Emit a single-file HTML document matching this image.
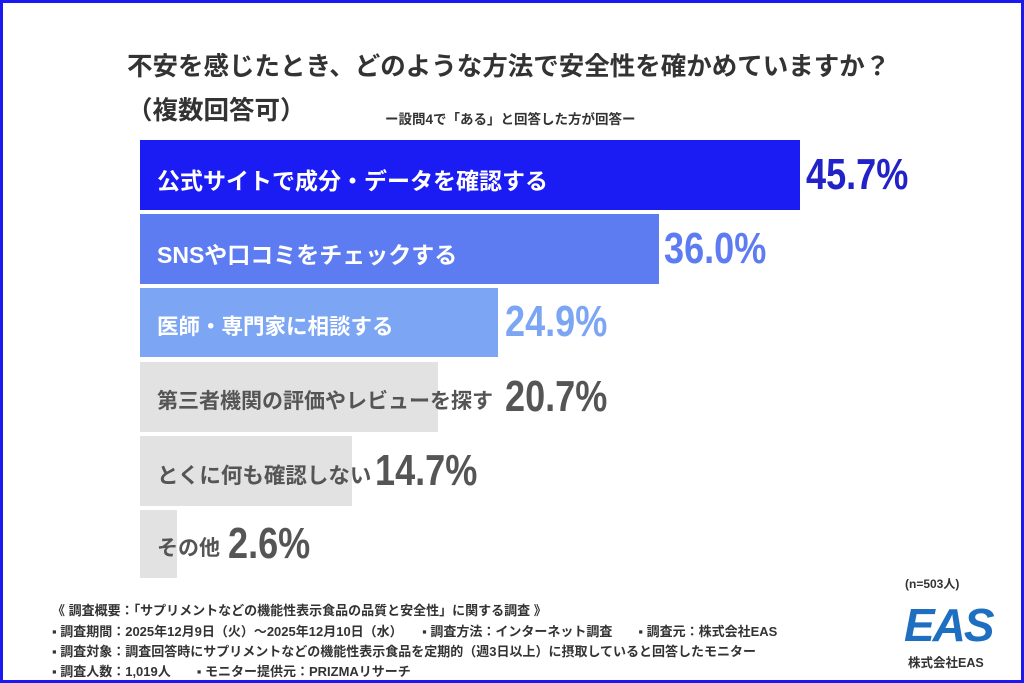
<!DOCTYPE html>
<html><head><meta charset="utf-8"><style>
body{margin:0;width:1024px;height:683px;overflow:hidden;background:#fff;font-family:"Liberation Sans","Noto Sans CJK JP",sans-serif}
.frame{position:absolute;left:0;top:0;width:1018px;height:677px;border:3px solid #1a1af0;background:#fff}
.t{position:absolute;white-space:nowrap;font-weight:bold;color:#333}
.bar{position:absolute;left:140px}
.lab{position:absolute;left:157px;font-size:21px;font-weight:bold;white-space:nowrap}
.pct{position:absolute;font-size:44px;font-weight:bold;transform:scaleX(0.82);transform-origin:left center;white-space:nowrap;line-height:44px}
.f{position:absolute;left:52px;font-size:13px;color:#333;white-space:nowrap;font-weight:bold}
</style></head><body>
<div class="frame"></div>
<div class="t" style="left:127px;top:46px;font-size:25.5px">不安を感じたとき、どのような方法で安全性を確かめていますか？</div>
<div class="t" style="left:127px;top:90px;font-size:25.5px">（複数回答可）</div>
<div class="t" style="left:385px;top:108px;font-size:13.5px">ー設問4で「ある」と回答した方が回答ー</div>

<div class="bar" style="top:140px;width:660px;height:70px;background:#1b1bf4"></div>
<div class="lab" style="top:162px;color:#fff;font-size:23px">公式サイトで成分・データを確認する</div>
<div class="pct" style="left:806px;top:153px;color:#2222c8">45.7%</div>

<div class="bar" style="top:214px;width:519px;height:70px;background:#5d7cf2"></div>
<div class="lab" style="top:236px;color:#fff;font-size:23px">SNSや口コミをチェックする</div>
<div class="pct" style="left:664px;top:227px;color:#5d7cf2">36.0%</div>

<div class="bar" style="top:288px;width:358px;height:69px;background:#7ca6f3"></div>
<div class="lab" style="top:310px;color:#fff;font-size:21.5px">医師・専門家に相談する</div>
<div class="pct" style="left:505px;top:300px;color:#7ca6f3">24.9%</div>

<div class="bar" style="top:362px;width:298px;height:70px;background:#e2e2e2"></div>
<div class="lab" style="top:385px;color:#555">第三者機関の評価やレビューを探す</div>
<div class="pct" style="left:505px;top:375px;color:#555">20.7%</div>

<div class="bar" style="top:436px;width:212px;height:70px;background:#e2e2e2"></div>
<div class="lab" style="top:459px;color:#555;font-size:21.5px">とくに何も確認しない</div>
<div class="pct" style="left:375px;top:449px;color:#555">14.7%</div>

<div class="bar" style="top:510px;width:37px;height:68px;background:#e2e2e2"></div>
<div class="lab" style="top:532px;color:#555">その他</div>
<div class="pct" style="left:228px;top:522px;color:#555">2.6%</div>

<div class="t" style="left:905px;top:575px;font-size:12px">(n=503人)</div>
<div class="f" style="top:600px">《 調査概要：「サプリメントなどの機能性表示食品の品質と安全性」に関する調査 》</div>
<div class="f" style="top:621px">▪ 調査期間：2025年12月9日（火）～2025年12月10日（水）　　▪ 調査方法：インターネット調査　　▪ 調査元：株式会社EAS</div>
<div class="f" style="top:641px">▪ 調査対象：調査回答時にサプリメントなどの機能性表示食品を定期的（週3日以上）に摂取していると回答したモニター</div>
<div class="f" style="top:661px">▪ 調査人数：1,019人　　▪ モニター提供元：PRIZMAリサーチ</div>
<div class="t" style="left:904px;top:598px;font-size:46px;font-style:italic;color:#1e6fc0;letter-spacing:-2px">EAS</div>
<div class="t" style="left:908px;top:652px;font-size:12.5px;color:#333">株式会社EAS</div>
</body></html>
